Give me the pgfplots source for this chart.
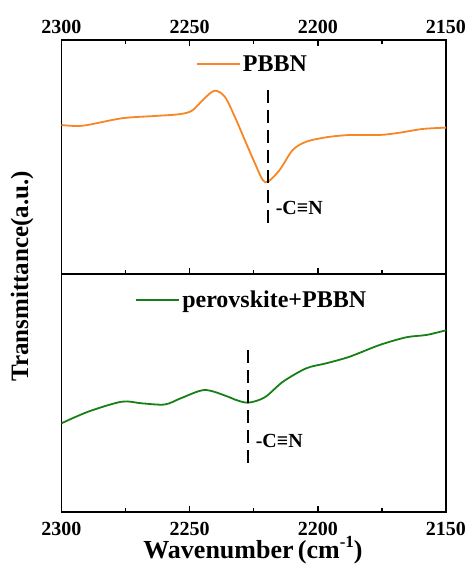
\documentclass[border=0pt]{standalone}
\usepackage{fontspec}
\setmainfont{Liberation Serif}
\usepackage{pgfplots}
\pgfplotsset{compat=1.18}
\definecolor{pbbn}{RGB}{247,134,36}
\definecolor{pero}{RGB}{22,128,22}
\pgfplotsset{
 common/.style={
  scale only axis, width=384.5pt, anchor=south west,
  xmin=2150, xmax=2300, x dir=reverse,
  xtick={2150,2200,2250,2300}, minor x tick num=1,
  ytick=\empty,
  tick align=inside,
  major tick length=6pt, minor tick length=4pt,
  line width=1.6pt,
  every major tick/.append style={line width=1.4pt, black},
  every minor tick/.append style={line width=1.2pt, black},
  /pgf/number format/assume math mode=true,
  /pgf/number format/1000 sep={},
  xticklabel style={font=\fontsize{20}{20}\selectfont\bfseries},
  legend style={draw=none, fill=none, font=\fontsize{24}{24}\selectfont\bfseries, anchor=center},
  legend image code/.code={\draw[##1,line width=1.8pt] (0pt,0pt) -- (43pt,0pt);},
 }
}
\begin{document}
\begin{tikzpicture}[x=1pt,y=1pt]
\useasboundingbox (0,0) rectangle (469,567);
% top panel
\begin{axis}[common, at={(61.5pt,293pt)}, height=234pt,
  ymin=326, ymax=560,
  xtick pos=both, xticklabel pos=upper,
  xticklabel style={yshift=2pt},
  legend style={at={(0.497,0.897)}}]
\addplot[pbbn, line width=1.8pt, smooth] coordinates {
(2300,475) (2291.6,474.3) (2276.5,481.7) (2263.6,484) (2254,485.8) (2249,489.5)
(2244.1,502) (2240.2,509.3) (2236.3,503.3) (2232.4,483.3) (2228.5,460)
(2224.6,437) (2221.5,420) (2219.4,418.3) (2214.9,430) (2209.8,450)
(2204.5,458.3) (2196.7,462.7) (2187.6,465) (2175.9,465) (2168.1,467.3)
(2159.2,471) (2150.6,472.3) (2150,472.4)};
\addlegendentry{PBBN}
\addplot[black, line width=1.8pt, dash pattern=on 13pt off 7pt, forget plot] coordinates {(2219.4,510) (2219.4,370)};
\node[anchor=west, font=\fontsize{20}{20}\selectfont\bfseries] at (axis cs:2218,392) {-C≡N};
\end{axis}
% bottom panel
\begin{axis}[common, at={(61.5pt,55pt)}, height=238pt,
  ymin=88, ymax=326,
  xtick pos=lower,
  xticklabel style={yshift=-6pt},
  legend style={at={(0.495,0.89)}}]
\addplot[pero, line width=1.8pt, smooth] coordinates {
(2300,176.7) (2289.6,188.3) (2276.5,198.3) (2268.8,196.7) (2259.7,195.5)
(2253.2,202) (2244.1,210) (2235.0,203.3) (2232.4,200.5) (2227.2,197.3) (2220.7,202.7)
(2213.6,218.3) (2204.5,231.7) (2196.7,236.7) (2187.6,243.3) (2175.9,255)
(2165.5,262.7) (2157.7,265) (2150.6,269.3) (2150,269.5)};
\addlegendentry{perovskite+PBBN}
\addplot[black, line width=1.8pt, dash pattern=on 13pt off 7pt, forget plot] coordinates {(2227.2,250) (2227.2,135)};
\node[anchor=west, font=\fontsize{20}{20}\selectfont\bfseries] at (axis cs:2225.8,159) {-C≡N};
\end{axis}
\node[rotate=90, font=\fontsize{25}{25}\selectfont\bfseries] at (22,290.5) {Transmittance(a.u.)};
\node[font=\fontsize{26}{26}\selectfont\bfseries] at (253,17) {Wavenumber\,(cm\raisebox{0.42em}{\fontsize{17}{17}\selectfont -1})};
\end{tikzpicture}
\end{document}
